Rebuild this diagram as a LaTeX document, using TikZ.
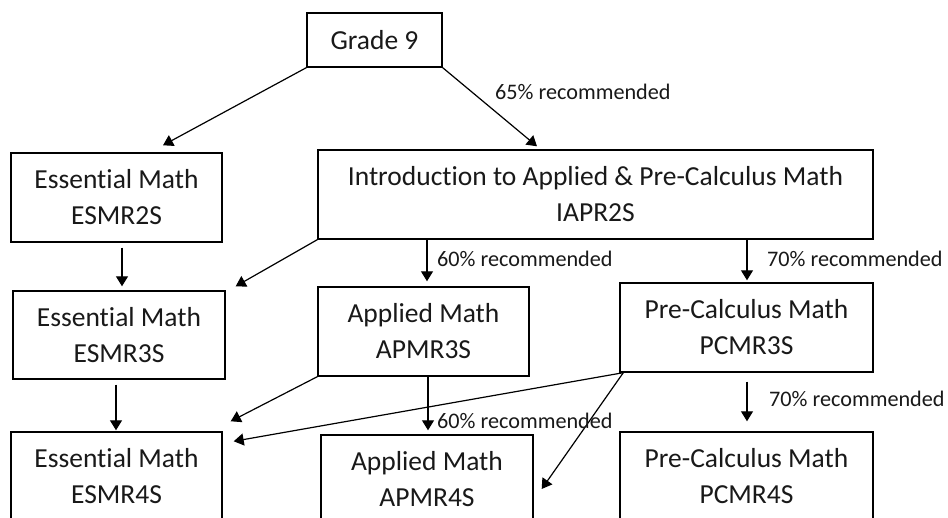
\documentclass[tikz,border=0pt]{standalone}
\usepackage{fontspec}
\setmainfont{Carlito}[RawFeature={-liga;-clig;-calt}]
\usetikzlibrary{arrows.meta}
\newcommand{\nolig}{\kern0pt{}}
\begin{document}
\begin{tikzpicture}[x=1pt,y=1pt,
  box/.style={draw=black,line width=1.4pt,rectangle,inner sep=0pt,align=center,
    font=\fontsize{27.5}{36}\selectfont,text=black!90},
  conn/.style={draw=black,line width=1.2pt,-{Triangle[length=10pt,width=12pt]}},
  lbl/.style={anchor=west,inner sep=0pt,font=\fontsize{22.2}{26}\selectfont,text=black!90}]
\clip (0,0) rectangle (948,518);
\fill[white] (0,0) rectangle (948,518);
% nodes
\node[box,minimum width=135pt,minimum height=54pt] (g9) at (374.5,478) {Grade 9};
\node[box,minimum width=211pt,minimum height=89pt] (esm2) at (116.5,320.5) {Essent\nolig ial Math\\ESMR2S};
\node[box,minimum width=555pt,minimum height=89pt] (iapr) at (595.5,323.5) {Introduct\nolig ion to Applied \& Pre-Calculus Math\\IAPR2S};
\node[box,minimum width=212pt,minimum height=88pt] (esm3) at (119,183) {Essent\nolig ial Math\\ESMR3S};
\node[box,minimum width=211pt,minimum height=89pt] (apm3) at (423.5,186.5) {Applied Math\\APMR3S};
\node[box,minimum width=253pt,minimum height=89pt] (pcm3) at (746.5,190.5) {Pre-Calculus Math\\PCMR3S};
\node[box,minimum width=211pt,minimum height=89pt] (esm4) at (116.5,41.5) {Essent\nolig ial Math\\ESMR4S};
\node[box,minimum width=212pt,minimum height=89pt] (apm4) at (427,38.5) {Applied Math\\APMR4S};
\node[box,minimum width=253pt,minimum height=89pt] (pcm4) at (746.5,41.5) {Pre-Calculus Math\\PCMR4S};
% connectors
\draw[conn] (g9.south west) -- ([xshift=46.5pt,yshift=7pt]esm2.north);
\draw[conn] (g9.south east) -- ([xshift=-58.5pt,yshift=3pt]iapr.north);
\draw[conn] ([xshift=5.5pt,yshift=-5pt]esm2.south) -- ([xshift=3pt,yshift=4pt]esm3.north);
\draw[conn] (iapr.south west) -- ([xshift=10pt,yshift=4pt]esm3.north east);
\draw[conn] ([xshift=-168.5pt]iapr.south) -- ([xshift=3.5pt,yshift=5pt]apm3.north);
\draw[conn] ([xshift=151.5pt]iapr.south) -- ([xshift=0.5pt,yshift=2pt]pcm3.north);
\draw[conn] ([xshift=-3pt,yshift=-5pt]esm3.south) -- ([xshift=-0.5pt,yshift=1pt]esm4.north);
\draw[conn] (apm3.south west) -- ([xshift=8pt,yshift=10pt]esm4.north east);
\draw[conn] ([xshift=4pt]pcm3.south west) -- ([xshift=11pt,yshift=-10pt]esm4.north east);
\draw[conn] ([xshift=4.5pt]apm3.south) -- ([xshift=1pt,yshift=4pt]apm4.north);
\draw[conn] ([xshift=4pt]pcm3.south west) -- ([xshift=8pt,yshift=-9.5pt]apm4.east);
\draw[conn] ([xshift=0.5pt,yshift=-9pt]pcm3.south) -- ([xshift=0.5pt,yshift=10pt]pcm4.north);
% labels
\node[lbl] (l65) at (495,426) {65\% recommended};
\node[lbl] (l60a) at (437,259) {60\% recommended};
\node[lbl] (l70a) at (767,259) {70\% recommended};
\node[lbl] (l60b) at (437,97) {60\% recommended};
\node[lbl] (l70b) at (769,119) {70\% recommended};
\end{tikzpicture}
\end{document}
